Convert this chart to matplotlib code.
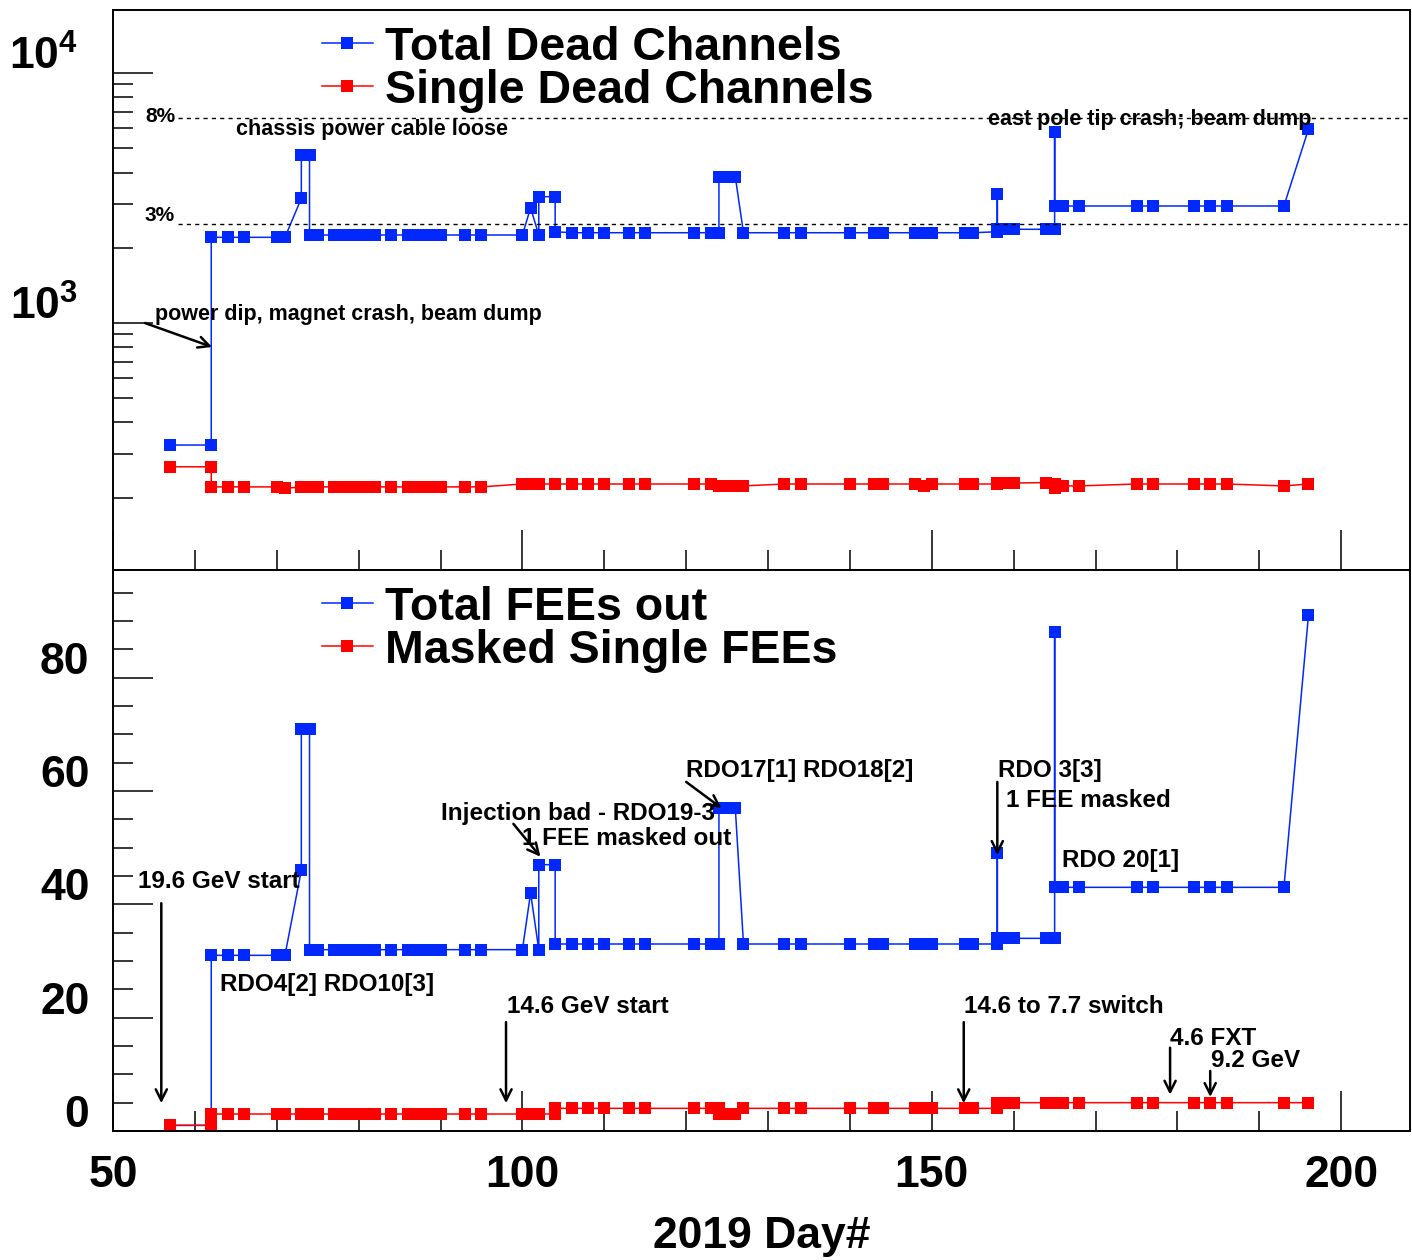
import math

import matplotlib
matplotlib.use("Agg")
import matplotlib.pyplot as plt
import matplotlib.transforms as mtransforms
from matplotlib.ticker import (FixedLocator, FuncFormatter, LogLocator,
                               MultipleLocator, NullFormatter)

plt.rcParams['font.family'] = ['Liberation Sans', 'DejaVu Sans']
plt.rcParams['font.weight'] = 'bold'
plt.rcParams['axes.labelweight'] = 'bold'
plt.rcParams['mathtext.fontset'] = 'custom'
plt.rcParams['mathtext.bf'] = 'Liberation Sans:bold'
plt.rcParams['mathtext.rm'] = 'Liberation Sans:bold'
plt.rcParams['mathtext.default'] = 'bf'

# run days (repeated day = two entries that day)
days = [57, 62, 62, 64, 66, 70, 71, 73, 73, 74, 74, 75, 77, 78, 79, 80, 81, 82,
        84, 86, 87, 88, 89, 90, 93, 95, 100, 101, 102, 102, 104, 104, 106, 108,
        110, 113, 115, 121, 123, 124, 124, 125, 126, 127, 132, 134, 140, 143,
        144, 148, 149, 150, 154, 155, 158, 158, 158, 159, 160, 164, 165, 165,
        165, 166, 168, 175, 177, 182, 184, 186, 193, 196]

total_dead = ([325, 325] + [2202] * 5 + [3152, 4700, 4700] + [2249] * 17
              + [2891, 2249, 3201, 3201, 2318] + [2297] * 8 + [3848] * 3
              + [2297] * 11 + [2318, 3270] + [2371] * 5 + [5825]
              + [2938] * 9 + [5960])

single_dead = ([266, 266] + [221] * 4 + [218] + [221] * 19 + [227] * 13
               + [223] * 5 + [227] * 5 + [227, 222, 227, 227, 227, 227, 227]
               + [229, 229, 229, 230, 228, 219, 219, 223, 223]
               + [227] * 5 + [223, 227])

fees_out = ([1, 1] + [31] * 5 + [46, 71, 71] + [32] * 17 + [42, 32, 47, 47, 33]
            + [33] * 8 + [57] * 3 + [33] * 11 + [33, 49] + [34] * 5 + [88]
            + [43] * 9 + [91])

masked_fees = [1, 1] + [3] * 29 + [4] * 9 + [3] * 3 + [4] * 12 + [5] * 17

# 3% and 8% of all channels
pct_levels = [2489, 6590]
pct_labels = ['3%', '8%']

BLUE = '#0028ff'
RED = '#ff0000'

fig = plt.figure(figsize=(14.12, 12.6), dpi=100)
ax1 = fig.add_axes([113 / 1412, 1 - 570 / 1260, 1297 / 1412, 560 / 1260])
ax2 = fig.add_axes([113 / 1412, 1 - 1131 / 1260, 1297 / 1412, 561 / 1260])

style = dict(marker='s', ms=8.5, lw=1.1, mew=0)
leg_kw = dict(loc='upper left', bbox_to_anchor=(0.161, 0.972), frameon=False,
              fontsize=33.5, handlelength=1.1, handletextpad=0.25,
              labelspacing=-0.02, borderpad=0, borderaxespad=0)

# ---- top: dead channels
ax1.plot(days, total_dead, color=BLUE, label='Total Dead Channels', **style)
ax1.plot(days, single_dead, color=RED, label='Single Dead Channels', **style)
ax1.set_yscale('log')
ax1.set_ylim(102.8, 17870)
for lev, lab, ty in zip(pct_levels, pct_labels, [2680, 6730]):
    ax1.hlines(lev, 57.9, 208.4, colors='black', lw=1.0, linestyles=(0, (3, 3)))
    ax1.text(53.9, ty, lab, fontsize=15, ha='left', va='center')

ax1.text(65.0, 5970, 'chassis power cable loose', fontsize=15.5, va='center')
ax1.text(156.9, 6490, 'east pole tip crash; beam dump', fontsize=15.5, va='center')
ax1.text(55.1, 1077, 'power dip, magnet crash, beam dump', fontsize=15.5, va='center')

arrow = dict(arrowstyle='->', lw=1.8, color='black', mutation_scale=20,
             shrinkA=0, shrinkB=0)
ax1.annotate('', xy=(62.1, 802), xytext=(53.9, 1000), arrowprops=arrow)

ax1.legend(**leg_kw)

ax1.yaxis.set_major_locator(FixedLocator([1e3, 1e4]))
ax1.yaxis.set_major_formatter(
    FuncFormatter(lambda v, p: r'$\mathbf{10^{%d}}$' % round(math.log10(v))))
ax1.yaxis.set_minor_locator(LogLocator(base=10, subs=range(2, 10)))
ax1.yaxis.set_minor_formatter(NullFormatter())

# ---- bottom: FEEs
ax2.plot(days, fees_out, color=BLUE, label='Total FEEs out', **style)
ax2.plot(days, masked_fees, color=RED, label='Masked Single FEEs', **style)
ax2.set_ylim(0, 99)
ax2.yaxis.set_major_locator(MultipleLocator(20))
ax2.yaxis.set_minor_locator(MultipleLocator(5))

ax2.legend(**leg_kw)

notes = [
    (53.05, 44.0, '19.6 GeV start'),
    (63.1, 25.9, 'RDO4[2] RDO10[3]'),
    (90.1, 56.0, 'Injection bad - RDO19-3'),
    (100.0, 51.7, '1 FEE masked out'),
    (120.0, 63.7, 'RDO17[1] RDO18[2]'),
    (158.1, 63.7, 'RDO 3[3]'),
    (159.0, 58.4, '1 FEE masked'),
    (165.9, 47.8, 'RDO 20[1]'),
    (98.1, 21.9, '14.6 GeV start'),
    (153.9, 21.9, '14.6 to 7.7 switch'),
    (179.1, 16.4, '4.6 FXT'),
    (184.1, 12.4, '9.2 GeV'),
]
for x, y, s in notes:
    ax2.text(x, y, s, fontsize=17.5, va='center')

arrows = [
    ((55.9, 40.2), (55.9, 4.9)),
    ((98.9, 54.2), (102.2, 48.4)),
    ((120.0, 61.6), (124.3, 57.0)),
    ((158.0, 61.6), (158.0, 48.7)),
    ((98.0, 19.2), (98.0, 4.9)),
    ((153.9, 19.2), (153.9, 4.9)),
    ((179.1, 14.7), (179.1, 6.4)),
    ((184.0, 10.6), (184.0, 6.0)),
]
for tail, head in arrows:
    ax2.annotate('', xy=head, xytext=tail, arrowprops=arrow)

ax2.set_xlabel('2019 Day#', fontsize=32, fontweight='bold', labelpad=15)

for ax in (ax1, ax2):
    ax.set_xlim(50, 208.4)
    ax.xaxis.set_major_locator(MultipleLocator(50))
    ax.xaxis.set_minor_locator(MultipleLocator(10))
    ax.tick_params(which='major', direction='in', length=29, width=1.1,
                   labelsize=32, top=False, right=False)
    ax.tick_params(which='minor', direction='in', length=14.5, width=1.1,
                   top=False, right=False)
    for sp in ax.spines.values():
        sp.set_linewidth(1.4)

ax1.tick_params(axis='x', labelbottom=False)
ax1.tick_params(axis='y', pad=25)
ax2.tick_params(axis='y', pad=17)
ax2.tick_params(axis='x', pad=17)

# ROOT draws the y labels a little above their ticks
up = mtransforms.ScaledTranslation(0, 0.2, fig.dpi_scale_trans)
for ax in (ax1, ax2):
    for t in ax.yaxis.get_major_ticks():
        t.label1.set_transform(t.label1.get_transform() + up)

plt.savefig('out.png', dpi=100)
